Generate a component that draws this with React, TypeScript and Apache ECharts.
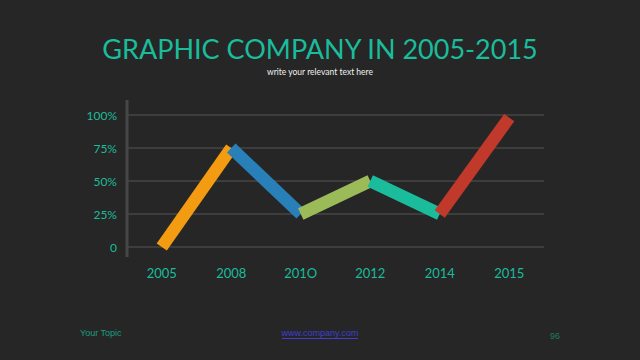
import React, { useEffect, useRef } from "react";
import * as echarts from "echarts";

const years = ["2005", "2008", "201O", "2012", "2014", "2015"];
const values = [0, 75, 25, 50, 25, 98];
const segmentColors = ["#F39C12", "#2980B9", "#9BBB59", "#1ABC9C", "#C0392B"];
const yTicks = [0, 25, 50, 75, 100];

export default function App() {
  const ref = useRef<HTMLDivElement>(null);
  useEffect(() => {
    if (!ref.current) return;
    const chart = echarts.init(ref.current, undefined, { renderer: "svg" });
    const series = segmentColors.map((c, i) => ({
      type: "line",
      data: values.map((v, j) => (j === i || j === i + 1 ? v : null)),
      showSymbol: false,
      symbol: "none",
      connectNulls: false,
      lineStyle: { color: c, width: 12.5, cap: "butt", join: "miter" },
      z: 3 + i,
    }));
    chart.setOption({
      animation: false,
      backgroundColor: "#262626",
      title: [
        {
          text: "GRAPHIC COMPANY IN 2005-2015",
          left: "center",
          top: 30,
          textStyle: { fontFamily: "Lato", fontSize: 27, fontWeight: "normal", color: "#1ABC9C" },
        },
        {
          text: "write your relevant text here",
          left: "center",
          top: 62,
          textStyle: { fontFamily: "Lato", fontSize: 8.5, fontWeight: "normal", color: "#f0f0f0" },
        },
      ],
      grid: { left: 127, right: 96, top: 115, bottom: 113 },
      xAxis: {
        type: "category",
        data: years,
        boundaryGap: true,
        axisLine: { show: false },
        axisTick: { show: false },
        axisLabel: { color: "#1ABC9C", fontFamily: "Lato", fontSize: 13, margin: 19 },
        splitLine: { show: false },
      },
      yAxis: {
        type: "value",
        min: 0,
        max: 100,
        interval: 25,
        axisLine: { show: false },
        axisTick: { show: false },
        axisLabel: {
          color: "#1ABC9C",
          fontFamily: "Lato",
          fontSize: 12,
          margin: 10,
          formatter: (v: number) => (yTicks.includes(v) ? (v === 0 ? "0" : v + "%") : ""),
        },
        splitLine: { show: true, lineStyle: { color: "#3d3d3d", width: 2 } },
      },
      series,
      graphic: [
        {
          type: "line",
          shape: { x1: 127, y1: 100, x2: 127, y2: 257 },
          style: { stroke: "#474747", lineWidth: 3 },
          z: 10,
        },
        {
          type: "text",
          x: 80,
          y: 333,
          style: {
            text: "Your Topic",
            fill: "#1a9e7e",
            font: "9px 'Liberation Sans', Arial, sans-serif",
            textVerticalAlign: "middle",
          },
        },
        {
          type: "text",
          x: 320,
          y: 333,
          style: {
            text: "www.company.com",
            fill: "#3f3fd0",
            font: "9px 'Liberation Sans', Arial, sans-serif",
            textAlign: "center",
            textVerticalAlign: "middle",
          },
        },
        {
          type: "line",
          shape: { x1: 282, y1: 338.5, x2: 358, y2: 338.5 },
          style: { stroke: "#3f3fd0", lineWidth: 1 },
        },
        {
          type: "text",
          x: 555,
          y: 336,
          style: {
            text: "96",
            fill: "#1f7a60",
            font: "9px 'Liberation Sans', Arial, sans-serif",
            textAlign: "center",
            textVerticalAlign: "middle",
          },
        },
      ],
    });
    return () => chart.dispose();
  }, []);
  return (
    <div
      ref={ref}
      style={{ position: "absolute", left: 0, top: 0, width: 640, height: 360 }}
    />
  );
}
